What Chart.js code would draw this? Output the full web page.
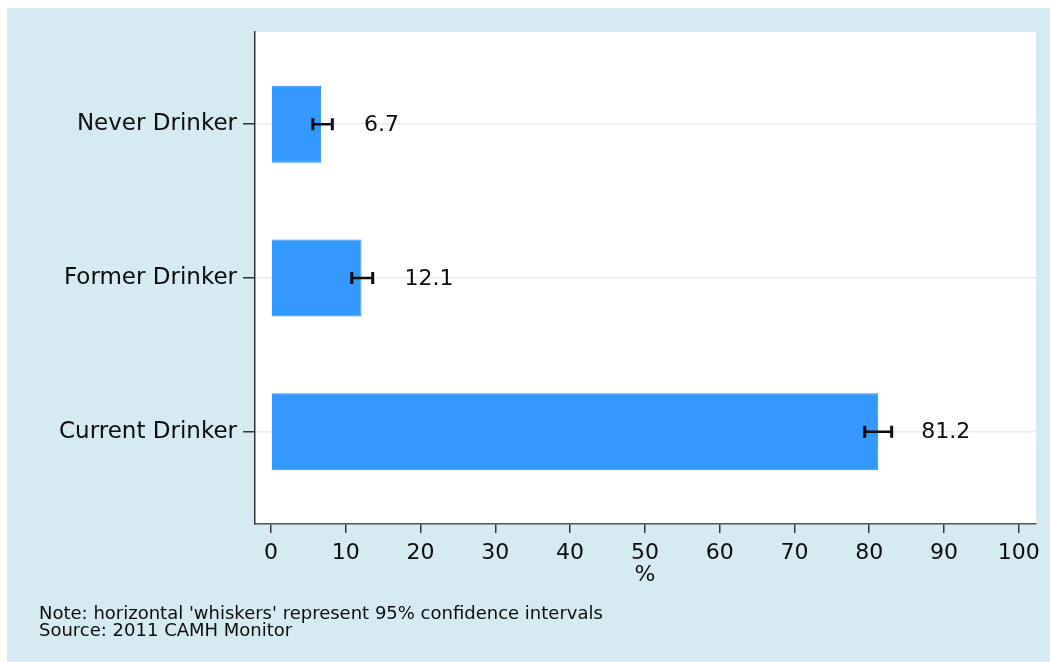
<!DOCTYPE html>
<html>
<head>
<meta charset="utf-8">
<script src="https://cdn.jsdelivr.net/npm/chart.js@4"></script>
<style>
  html, body { margin: 0; padding: 0; background: #fff; }
  canvas { display: block; }
</style>
</head>
<body>
<canvas id="drinkers" width="1050" height="662"></canvas>
<script>
// Drinking status, share of respondents (%), with 95% CI
const categories = ['Never Drinker', 'Former Drinker', 'Current Drinker'];
const percents = [6.7, 12.1, 81.2];
const ciLow = [5.6, 10.8, 79.4];
const ciHigh = [8.2, 13.6, 83.0];
const xTicks = [0, 10, 20, 30, 40, 50, 60, 70, 80, 90, 100];
const axisTitle = '%';
const notes = [
    "Note: horizontal 'whiskers' represent 95% confidence intervals",
    'Source: 2011 CAMH Monitor'
];

const FONT = '"DejaVu Sans", "Liberation Sans", Arial, sans-serif';
const REGION = '#d5eaf1';
const INK = '#0d0d0d';

Chart.defaults.font.family = FONT;
Chart.defaults.color = INK;

// graph region and white plot region behind everything
const backdrop = {
    id: 'backdrop',
    beforeDraw(chart) {
        const ctx = chart.ctx;
        const a = chart.chartArea;
        ctx.save();
        ctx.fillStyle = '#ffffff';
        ctx.fillRect(0, 0, chart.width, chart.height);
        ctx.fillStyle = REGION;
        ctx.fillRect(7, 8, chart.width - 7, chart.height - 8);
        ctx.fillStyle = '#ffffff';
        ctx.fillRect(a.left, a.top, a.right - a.left, a.bottom - a.top);
        ctx.restore();
    }
};

// whiskers, value labels, axis title and footnotes
const extras = {
    id: 'extras',
    afterDatasetsDraw(chart) {
        const ctx = chart.ctx;
        const xs = chart.scales.x;
        const ys = chart.scales.y;
        ctx.save();
        ctx.strokeStyle = INK;
        ctx.fillStyle = INK;
        percents.forEach((v, i) => {
            const y = ys.getPixelForValue(i + 1);
            const x0 = xs.getPixelForValue(ciLow[i]);
            const x1 = xs.getPixelForValue(ciHigh[i]);
            ctx.lineWidth = 2.5;
            ctx.beginPath();
            ctx.moveTo(x0, y);
            ctx.lineTo(x1, y);
            ctx.stroke();
            ctx.lineWidth = 3;
            ctx.beginPath();
            ctx.moveTo(x0, y - 6);
            ctx.lineTo(x0, y + 6);
            ctx.moveTo(x1, y - 6);
            ctx.lineTo(x1, y + 6);
            ctx.stroke();

            ctx.font = '22px ' + FONT;
            ctx.textAlign = 'left';
            ctx.textBaseline = 'middle';
            ctx.fillText(v.toFixed(1), xs.getPixelForValue(v) + 43, y + 1);
        });

        ctx.font = '22px ' + FONT;
        ctx.textAlign = 'center';
        ctx.textBaseline = 'middle';
        ctx.fillText(axisTitle, xs.getPixelForValue(50), 575);

        ctx.font = '18px ' + FONT;
        ctx.textAlign = 'left';
        ctx.textBaseline = 'alphabetic';
        notes.forEach((t, i) => ctx.fillText(t, 39, 619 + i * 16.5));
        ctx.restore();
    }
};

new Chart(document.getElementById('drinkers').getContext('2d'), {
    type: 'bar',
    plugins: [backdrop, extras],
    data: {
        datasets: [{
            data: percents.map((v, i) => ({ x: v, y: i + 1 })),
            backgroundColor: '#3399ff',
            borderColor: '#2b8ae8',
            borderWidth: 1,
            barPercentage: 0.5,
            categoryPercentage: 1.0
        }]
    },
    options: {
        indexAxis: 'y',
        responsive: false,
        animation: false,
        devicePixelRatio: 1,
        layout: {
            padding: { top: 32, right: 14, left: 0, bottom: 0 }
        },
        plugins: {
            legend: { display: false },
            title: { display: false },
            tooltip: { enabled: false }
        },
        scales: {
            x: {
                type: 'linear',
                min: -2.14,
                max: 102.3,
                afterBuildTicks: (scale) => {
                    scale.ticks = xTicks.map(v => ({ value: v }));
                },
                afterFit: (scale) => { scale.height = 138; },
                grid: {
                    drawOnChartArea: false,
                    tickColor: '#333',
                    tickLength: 9,
                    lineWidth: 1.5
                },
                border: { color: '#555', width: 1.5 },
                ticks: {
                    font: { size: 22 },
                    color: INK,
                    padding: 7,
                    maxRotation: 0,
                    autoSkip: false
                }
            },
            y: {
                type: 'linear',
                reverse: true,
                offset: false,
                min: 0.4,
                max: 3.6,
                afterBuildTicks: (scale) => {
                    scale.ticks = categories.map((c, i) => ({ value: i + 1 }));
                },
                afterFit: (scale) => { scale.width = 255; },
                grid: {
                    offset: false,
                    color: '#e3eef0',
                    tickColor: '#333',
                    tickLength: 12,
                    lineWidth: 1.5
                },
                border: { color: '#333', width: 1.5 },
                ticks: {
                    font: { size: 23 },
                    color: INK,
                    padding: 6,
                    autoSkip: false,
                    callback: (v) => categories[v - 1] || ''
                }
            }
        }
    }
});
</script>
</body>
</html>
